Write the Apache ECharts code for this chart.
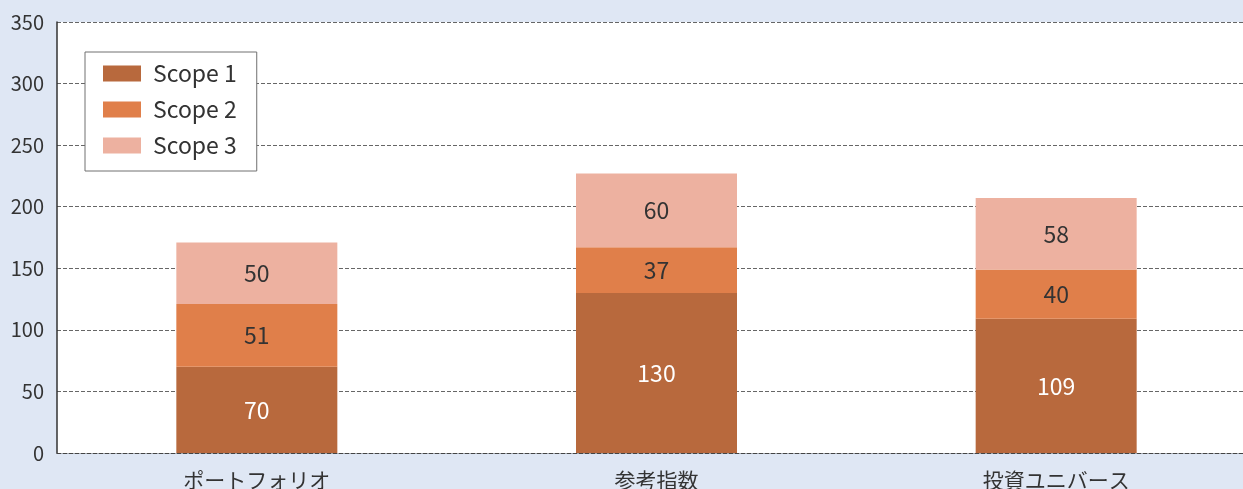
<!DOCTYPE html>
<html>
<head>
<meta charset="utf-8">
<script src="https://cdn.jsdelivr.net/npm/echarts@6/dist/echarts.min.js"></script>
<style>
html,body{margin:0;padding:0;background:#DFE7F4;overflow:hidden;width:1243px;height:489px;}
#c{width:1256px;height:489px;}
</style>
</head>
<body>
<div id="c"></div>
<script>
const categories = ['ポートフォリオ', '参考指数', '投資ユニバース'];
const scope1 = [70, 130, 109];
const scope2 = [51, 37, 40];
const scope3 = [50, 60, 58];
const seriesNames = ['Scope 1', 'Scope 2', 'Scope 3'];
const colors = ['#B8693D', '#E07F4A', '#EDB1A0'];
const labelColors = ['#ffffff', '#333333', '#333333'];

const font = '"Noto Sans CJK JP", "Noto Sans", sans-serif';
const chart = echarts.init(document.getElementById('c'));
const dataSets = [scope1, scope2, scope3];

chart.setOption({
  backgroundColor: '#DFE7F4',
  animation: false,
  textStyle: { fontFamily: font },
  grid: {
    left: 57, right: 0, top: 22, bottom: 36,
    outerBoundsMode: 'none',
    containLabel: false,
    show: true, backgroundColor: '#ffffff', borderWidth: 0
  },
  legend: {
    orient: 'vertical',
    left: 85, top: 52,
    padding: [10, 20, 14, 18],
    itemWidth: 38, itemHeight: 16, itemGap: 13,
    borderColor: '#707070', borderWidth: 1,
    backgroundColor: '#ffffff',
    icon: 'rect',
    textStyle: { fontSize: 23, color: '#333', fontFamily: font, padding: [0, 0, 0, 7] },
    data: seriesNames
  },
  xAxis: {
    type: 'category',
    data: categories,
    axisTick: { show: false },
    axisLine: { show: true, lineStyle: { color: '#444', type: [4, 2], width: 1 } },
    axisLabel: { fontSize: 21, color: '#333', margin: 17, fontFamily: font }
  },
  yAxis: {
    type: 'value',
    min: 0, max: 350, interval: 50,
    axisLine: { show: true, lineStyle: { color: '#333', width: 1.5 } },
    axisTick: { show: false },
    axisLabel: { fontSize: 20, color: '#333', margin: 13, fontFamily: font },
    splitLine: { show: true, lineStyle: { color: '#666', type: [4, 2], width: 1 } }
  },
  series: dataSets.map((d, i) => ({
    name: seriesNames[i],
    type: 'bar',
    stack: 'total',
    data: d,
    barWidth: 161,
    itemStyle: { color: colors[i] },
    label: {
      show: true, position: 'inside',
      fontSize: 23, color: labelColors[i], fontFamily: font
    }
  }))
});
</script>
</body>
</html>
